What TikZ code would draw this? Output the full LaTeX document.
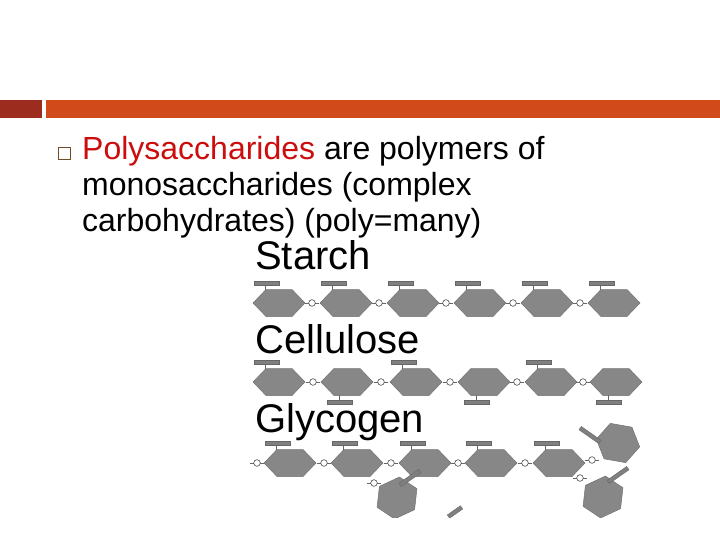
\documentclass[tikz,border=0pt]{standalone}
\usepackage{fontspec}
\setmainfont{Liberation Sans}
\definecolor{bar}{RGB}{208,74,26}
\definecolor{darkbar}{RGB}{155,44,30}
\begin{document}
\begin{tikzpicture}[x=1pt,y=-1pt,
  hexa/.style={fill=black!47, draw=black!55, line width=0.5pt},
  link/.style={draw=black!70, fill=white, line width=0.6pt},
  sub/.style={fill=black!50, draw=black!60, line width=0.4pt},
  lbl/.style={anchor=west, inner sep=0, font=\fontsize{40}{40}\selectfont},
  body/.style={anchor=base west, inner sep=0, font=\fontsize{32}{36}\selectfont}]
\useasboundingbox (0,0) rectangle (720,540);
\fill[darkbar] (0,100) rectangle (42,118);
\fill[bar] (46,100) rectangle (720,118);
\draw[brown!60!black, line width=1pt] (58,148) rectangle (70,160) node[coordinate](bul){};
\node[body] (t1) at (82,160) {\textcolor[rgb]{0.8,0.05,0.05}{Polysaccharides} are polymers of};
\node[body] (t2) at (82,196) {monosaccharides (complex};
\node[body] (t3) at (82,232) {carbohydrates) (poly=many)};
\newcommand\hexg[3]{\begin{scope}[shift={(#1,#2)},rotate=#3]
 \path[hexa] (-26,0)--(-13,-13.5)--(13,-13.5)--(26,0)--(13,13.5)--(-13,13.5)--cycle;\end{scope}}
\newcommand\hexr[3]{\begin{scope}[shift={(#1,#2)},rotate=#3]
 \path[hexa] (-22,0)--(-11,-18)--(11,-18)--(22,0)--(11,18)--(-11,18)--cycle;\end{scope}}
\newcommand\subup[2]{\draw[black!60] (#1-14,#2-13)--(#1-14,#2-20);\path[sub] (#1-25,#2-22) rectangle (#1,#2-18);}
\newcommand\subdn[2]{\draw[black!60] (#1-8,#2+13)--(#1-8,#2+20);\path[sub] (#1-20,#2+18) rectangle (#1+5,#2+22);}
\newcommand\lnk[2]{\draw[black!60] (#1-7,#2)--(#1+7,#2);\path[link] (#1,#2) circle (3.3);}
\node[lbl] (starch) at (255,255) {Starch};
\node[lbl] (cell) at (255,339) {Cellulose};
\node[lbl] (glyc) at (255,422) {Glycogen};
% starch
\foreach \x in {312,379,446,513,580}{\lnk{\x}{303}}
\foreach \x in {279,346,413,480,547,614}{\hexg{\x}{303}{0}\subup{\x}{303}}
% cellulose
\foreach \x in {313,381,450,517,583}{\lnk{\x}{382}}
\foreach \x in {279,347,416,484,551,616}{\hexg{\x}{382}{0}}
\foreach \x in {279,416,551}{\subup{\x}{382}}
\foreach \x in {347,484,616}{\subdn{\x}{382}}
% glycogen
\foreach \x in {257,324,391,458,525}{\lnk{\x}{463}}
\foreach \x in {290,357,425,491,559}{\hexg{\x}{463}{0}\subup{\x}{463}}
\hexr{618}{443}{-10}
\hexr{603}{497}{25}
\hexr{397}{498}{25}
\lnk{592}{460}
\lnk{580}{478}
\lnk{374}{483}
\path[sub,rotate around={-35:(590,435)}] (578,433) rectangle (602,437);
\path[sub,rotate around={35:(618,475)}] (606,473) rectangle (630,477);
\path[sub,rotate around={35:(410,478)}] (398,476) rectangle (422,480);
\path[sub,rotate around={35:(455,512)}] (447,510) rectangle (463,514);
\fill[white] (240,518) rectangle (660,540);
\end{tikzpicture}
\end{document}
